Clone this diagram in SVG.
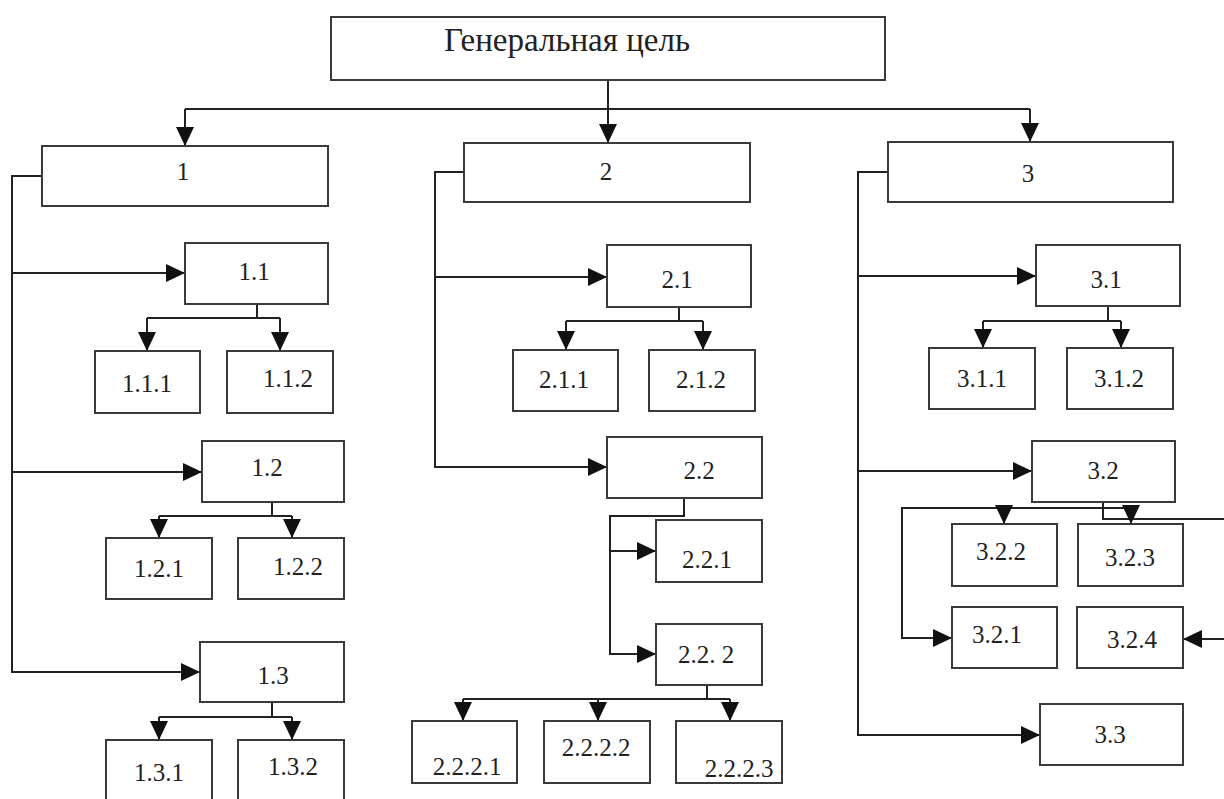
<svg xmlns="http://www.w3.org/2000/svg" width="1224" height="799" viewBox="0 0 1224 799">
<defs>
<marker id="arr" markerUnits="userSpaceOnUse" markerWidth="19" markerHeight="18" refX="19" refY="9" orient="auto">
<path d="M0,0 L19,9 L0,18 z" fill="#111"/>
</marker>
<style>
.box{fill:#fff;stroke:#3a3a3a;stroke-width:2}
.t{font-family:"Liberation Serif","Times New Roman",serif;font-size:25px;fill:#222;text-anchor:middle}
.tt{font-family:"Liberation Serif","Times New Roman",serif;font-size:33px;fill:#222;text-anchor:middle}
.c{fill:none;stroke:#222;stroke-width:2}
.a{marker-end:url(#arr)}
</style>
</defs>
<rect width="1224" height="799" fill="#fff"/>
<g id="connectors">
<path class="c" d="M608,80 V143"/>
<path class="c" d="M608,109 H185"/>
<path class="c" d="M608,109 H1030"/>
<path class="c a" d="M185,109 V146"/>
<path class="c a" d="M608,109 V143"/>
<path class="c a" d="M1030,109 V142"/>
<path class="c a" d="M42,176 H12 V672 H200"/>
<path class="c a" d="M12,273 H185"/>
<path class="c a" d="M12,472 H202"/>
<path class="c" d="M257,304 V318 M147,318 H280"/>
<path class="c a" d="M147,318 V351"/>
<path class="c a" d="M280,318 V351"/>
<path class="c" d="M272,502 V516 M159,516 H292"/>
<path class="c a" d="M159,516 V538"/>
<path class="c a" d="M292,516 V538"/>
<path class="c" d="M272,702 V717 M159,717 H292"/>
<path class="c a" d="M159,717 V740"/>
<path class="c a" d="M292,717 V740"/>
<path class="c a" d="M464,172 H435 V467 H607"/>
<path class="c a" d="M435,277 H607"/>
<path class="c" d="M679,307 V321 M566,321 H703"/>
<path class="c a" d="M566,321 V350"/>
<path class="c a" d="M703,321 V350"/>
<path class="c a" d="M684,498 V516 H610 V654 H656"/>
<path class="c a" d="M610,551 H656"/>
<path class="c" d="M707,685 V699 M463,699 H730"/>
<path class="c a" d="M463,699 V721"/>
<path class="c a" d="M598,699 V721"/>
<path class="c a" d="M730,699 V721"/>
<path class="c a" d="M888,172 H858 V735 H1040"/>
<path class="c a" d="M858,276 H1036"/>
<path class="c a" d="M858,471 H1032"/>
<path class="c" d="M1108,306 V321 M983,321 H1121"/>
<path class="c a" d="M983,321 V348"/>
<path class="c a" d="M1121,321 V348"/>
<path class="c" d="M1103,502 V519 H1224"/>
<path class="c a" d="M1131,508 H902 V638 H952"/>
<path class="c a" d="M1004,508 V524"/>
<path class="c a" d="M1131,508 V524"/>
<path class="c a" d="M1224,639 H1183"/>
</g>
<g id="goal"><rect class="box" x="331" y="17" width="554" height="63"/><text class="tt" x="567" y="51">Генеральная цель</text></g>
<g id="n1"><rect class="box" x="42" y="146" width="286" height="60"/><text class="t" x="183" y="180">1</text></g>
<g id="n2"><rect class="box" x="464" y="143" width="286" height="59"/><text class="t" x="606" y="180">2</text></g>
<g id="n3"><rect class="box" x="888" y="142" width="285" height="60"/><text class="t" x="1028" y="182">3</text></g>
<g id="n1_1"><rect class="box" x="185" y="243" width="143" height="61"/><text class="t" x="254" y="280">1.1</text></g>
<g id="n1_1_1"><rect class="box" x="95" y="351" width="105" height="62"/><text class="t" x="147" y="392">1.1.1</text></g>
<g id="n1_1_2"><rect class="box" x="227" y="351" width="106" height="62"/><text class="t" x="288" y="387">1.1.2</text></g>
<g id="n1_2"><rect class="box" x="202" y="441" width="142" height="61"/><text class="t" x="267" y="476">1.2</text></g>
<g id="n1_2_1"><rect class="box" x="106" y="538" width="106" height="61"/><text class="t" x="159" y="577">1.2.1</text></g>
<g id="n1_2_2"><rect class="box" x="238" y="538" width="106" height="61"/><text class="t" x="298" y="575">1.2.2</text></g>
<g id="n1_3"><rect class="box" x="200" y="642" width="144" height="60"/><text class="t" x="273" y="684">1.3</text></g>
<g id="n1_3_1"><rect class="box" x="106" y="740" width="106" height="62"/><text class="t" x="159" y="781">1.3.1</text></g>
<g id="n1_3_2"><rect class="box" x="238" y="740" width="106" height="62"/><text class="t" x="293" y="775">1.3.2</text></g>
<g id="n2_1"><rect class="box" x="607" y="245" width="144" height="62"/><text class="t" x="677" y="288">2.1</text></g>
<g id="n2_1_1"><rect class="box" x="513" y="350" width="105" height="61"/><text class="t" x="564" y="388">2.1.1</text></g>
<g id="n2_1_2"><rect class="box" x="649" y="350" width="106" height="61"/><text class="t" x="701" y="388">2.1.2</text></g>
<g id="n2_2"><rect class="box" x="607" y="437" width="155" height="61"/><text class="t" x="699" y="479">2.2</text></g>
<g id="n2_2_1"><rect class="box" x="656" y="520" width="106" height="62"/><text class="t" x="707" y="568">2.2.1</text></g>
<g id="n2_2_2"><rect class="box" x="656" y="624" width="106" height="61"/><text class="t" x="706" y="663">2.2. 2</text></g>
<g id="n2_2_2_1"><rect class="box" x="412" y="721" width="105" height="62"/><text class="t" x="467" y="775">2.2.2.1</text></g>
<g id="n2_2_2_2"><rect class="box" x="544" y="721" width="106" height="62"/><text class="t" x="596" y="756">2.2.2.2</text></g>
<g id="n2_2_2_3"><rect class="box" x="676" y="721" width="106" height="62"/><text class="t" x="739" y="777">2.2.2.3</text></g>
<g id="n3_1"><rect class="box" x="1036" y="245" width="144" height="61"/><text class="t" x="1106" y="288">3.1</text></g>
<g id="n3_1_1"><rect class="box" x="929" y="348" width="106" height="61"/><text class="t" x="982" y="387">3.1.1</text></g>
<g id="n3_1_2"><rect class="box" x="1067" y="348" width="106" height="61"/><text class="t" x="1119" y="387">3.1.2</text></g>
<g id="n3_2"><rect class="box" x="1032" y="441" width="143" height="61"/><text class="t" x="1103" y="479">3.2</text></g>
<g id="n3_2_2"><rect class="box" x="952" y="524" width="105" height="62"/><text class="t" x="1001" y="560">3.2.2</text></g>
<g id="n3_2_3"><rect class="box" x="1078" y="524" width="105" height="62"/><text class="t" x="1130" y="566">3.2.3</text></g>
<g id="n3_2_1"><rect class="box" x="952" y="607" width="105" height="61"/><text class="t" x="997" y="643">3.2.1</text></g>
<g id="n3_2_4"><rect class="box" x="1077" y="607" width="106" height="61"/><text class="t" x="1132" y="648">3.2.4</text></g>
<g id="n3_3"><rect class="box" x="1040" y="704" width="143" height="61"/><text class="t" x="1110" y="743">3.3</text></g>
</svg>
